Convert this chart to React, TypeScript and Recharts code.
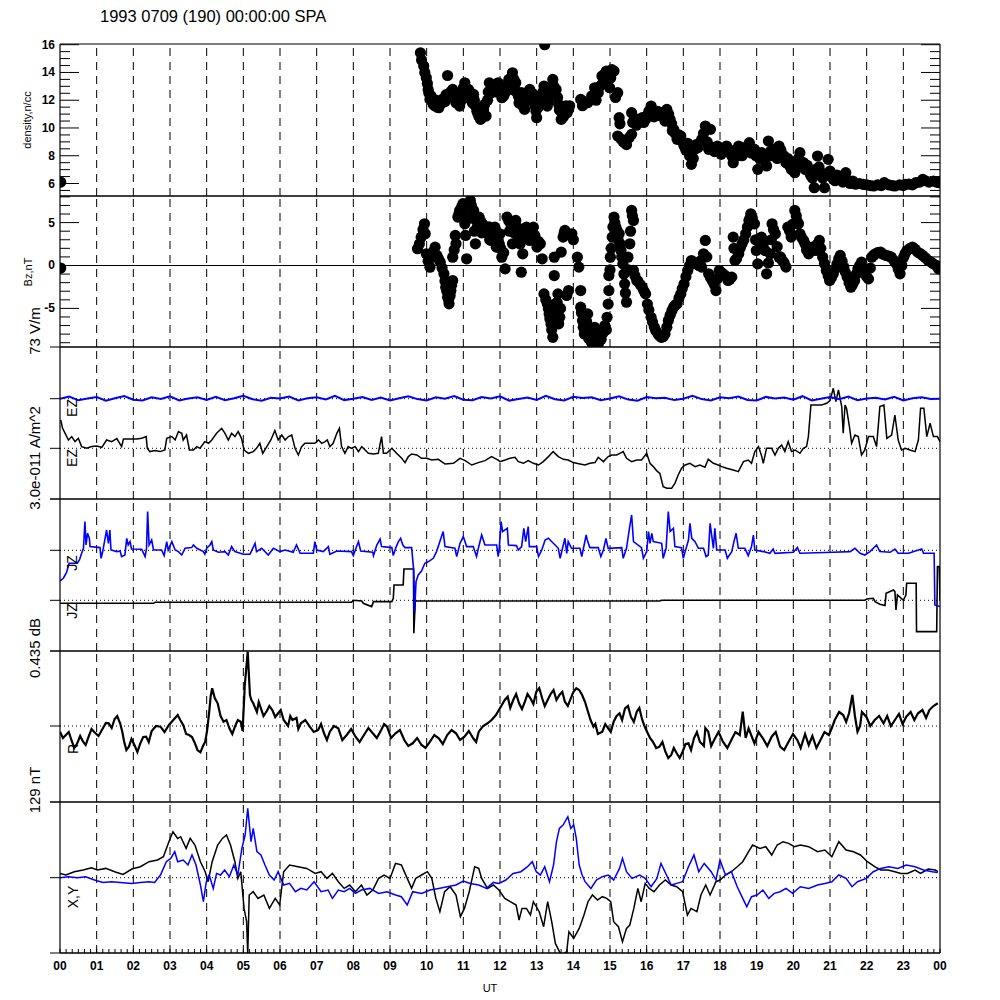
import React from 'react';
import { ComposedChart, Line, Scatter, XAxis, YAxis, ReferenceLine } from 'recharts';

type Pt = [number, number];

const FONT = '"Liberation Sans", Arial, Helvetica, sans-serif';
const BLUE = '#0000ff';

// hour labels along the bottom axis (00 .. 23, 00)
const HOUR_LABELS = ['00', '01', '02', '03', '04', '05', '06', '07', '08', '09', '10', '11',
  '12', '13', '14', '15', '16', '17', '18', '19', '20', '21', '22', '23', '00'];

const DENSITY_TICKS = [5.5, 6, 6.5, 7, 7.5, 8, 8.5, 9, 9.5, 10, 10.5, 11, 11.5, 12, 12.5, 13, 13.5, 14, 14.5, 15, 15.5, 16];
const DENSITY_LABELS = [6, 8, 10, 12, 14, 16];
const BZ_TICKS = [-9, -8, -7, -6, -5, -4, -3, -2, -1, 0, 1, 2, 3, 4, 5, 6, 7, 8];
const BZ_LABELS = [-5, 0, 5];

const DENSITY_DOMAIN: Pt = [5.1, 16.05];
const BZ_DOMAIN: Pt = [-9.5, 8.1];
const EZ_DOMAIN: Pt = [-50.7, 101.3];
const JZ_DOMAIN: Pt = [-50.7, 101.3];
const R_DOMAIN: Pt = [-76, 75];
const XY_DOMAIN: Pt = [-75.3, 75.7];

// density, n/cc  [UT hour, value]
const DENSITY: Pt[] = [
  [0.02, 6.1],
  [9.83, 15.42], [9.86, 14.9], [9.92, 14.46], [9.95, 14.0], [9.99, 13.62], [10.02, 13.2], [10.04, 12.78], [10.06, 12.5],
  [10.09, 12.06], [10.12, 12.3], [10.15, 11.9], [10.18, 11.7], [10.22, 11.6], [10.25, 12.0], [10.28, 11.5], [10.33, 11.46],
  [10.37, 11.7], [10.42, 11.82], [10.45, 12.1], [10.5, 11.9], [10.53, 12.4], [10.57, 13.78], [10.61, 12.3], [10.65, 12.6],
  [10.68, 12.2], [10.71, 12.78], [10.75, 12.3], [10.78, 12.0], [10.8, 11.82], [10.85, 11.9], [10.9, 11.58], [10.95, 12.0],
  [10.98, 12.6], [11.0, 12.9], [11.04, 13.26], [11.08, 12.5], [11.1, 12.2], [11.14, 12.78], [11.18, 12.6], [11.22, 12.0],
  [11.25, 11.8], [11.28, 12.42], [11.3, 12.0], [11.33, 11.58], [11.37, 11.2], [11.4, 11.0], [11.43, 10.8], [11.47, 10.62],
  [11.5, 10.9], [11.55, 11.3], [11.58, 11.7], [11.62, 10.86], [11.66, 12.0], [11.68, 12.6], [11.71, 13.26], [11.76, 12.54],
  [11.8, 12.8], [11.85, 13.0], [11.88, 12.6], [11.92, 12.9], [11.95, 13.26], [12.0, 12.8], [12.05, 12.18], [12.08, 12.9],
  [12.1, 12.3], [12.14, 12.54], [12.18, 13.1], [12.2, 12.9], [12.24, 13.5], [12.28, 13.2], [12.3, 12.8], [12.34, 13.98],
  [12.38, 13.5], [12.4, 12.7], [12.43, 13.26], [12.46, 12.6], [12.5, 12.3], [12.52, 11.8], [12.55, 12.0], [12.58, 12.54],
  [12.62, 11.6], [12.67, 11.34], [12.7, 11.9], [12.74, 12.4], [12.77, 12.6], [12.81, 12.78], [12.85, 12.3], [12.88, 12.5],
  [12.91, 12.06], [12.95, 11.6], [12.98, 11.2], [13.0, 10.74], [13.05, 11.5], [13.08, 11.9], [13.1, 12.3], [13.14, 12.0],
  [13.17, 12.6], [13.2, 13.02], [13.22, 16.0], [13.25, 12.2], [13.29, 11.58], [13.32, 11.9], [13.35, 12.4], [13.38, 12.9],
  [13.44, 13.5], [13.47, 13.0], [13.5, 12.4], [13.53, 12.78], [13.57, 12.2], [13.6, 11.7], [13.62, 11.3], [13.67, 10.62],
  [13.7, 11.0], [13.73, 10.8], [13.77, 11.34], [13.8, 11.6], [13.83, 11.1], [13.87, 11.34], [13.9, 11.6], [14.2, 12.06],
  [14.25, 11.6], [14.3, 11.9], [14.39, 11.82], [14.5, 12.3], [14.58, 12.9], [14.62, 12.0], [14.68, 12.54], [14.72, 13.0],
  [14.78, 13.74], [14.8, 13.2], [14.85, 13.9], [14.9, 14.1], [14.97, 13.98], [14.99, 12.9], [15.02, 13.6], [15.05, 14.2],
  [15.11, 14.1], [15.15, 12.2], [15.21, 12.54], [15.25, 10.74], [15.27, 10.3], [15.21, 9.42], [15.3, 9.2], [15.36, 9.0],
  [15.4, 8.94], [15.45, 8.8], [15.52, 9.3], [15.59, 9.54], [15.59, 11.1], [15.62, 10.4], [15.67, 10.7], [15.72, 10.2],
  [15.78, 10.38], [15.82, 10.5], [15.88, 10.74], [15.92, 10.4], [15.97, 10.62], [16.02, 10.9], [16.06, 11.2], [16.12, 11.58],
  [16.17, 11.3], [16.2, 10.8], [16.26, 10.98], [16.3, 11.2], [16.35, 10.9], [16.4, 11.1], [16.45, 11.0], [16.5, 10.5],
  [16.55, 11.34], [16.6, 11.0], [16.64, 10.62], [16.68, 10.3], [16.7, 9.8], [16.74, 9.9], [16.78, 9.6], [16.83, 9.18],
  [16.88, 9.5], [16.93, 9.42], [16.98, 9.0], [17.02, 8.7], [17.07, 8.4], [17.12, 8.9], [17.17, 8.0], [17.22, 7.38],
  [17.27, 7.8], [17.31, 8.46], [17.35, 8.8], [17.4, 8.6], [17.45, 8.9], [17.5, 9.18], [17.55, 9.6], [17.6, 10.14],
  [17.65, 9.0], [17.69, 8.46], [17.74, 9.9], [17.8, 8.6], [17.85, 8.3], [17.93, 8.7], [17.98, 8.5], [18.03, 8.1],
  [18.08, 8.46], [18.13, 8.3], [18.18, 8.7], [18.22, 8.5], [18.27, 8.22], [18.32, 8.0], [18.36, 7.5], [18.42, 8.4],
  [18.47, 8.0], [18.51, 8.7], [18.56, 8.5], [18.6, 8.0], [18.65, 8.22], [18.7, 8.3], [18.75, 8.7], [18.8, 8.94],
  [18.85, 8.2], [18.9, 8.5], [18.94, 8.46], [18.98, 8.0], [19.03, 7.02], [19.08, 7.8], [19.13, 8.22], [19.18, 8.0],
  [19.22, 7.6], [19.27, 7.26], [19.32, 9.06], [19.37, 8.3], [19.42, 8.0], [19.47, 8.46], [19.52, 8.3], [19.56, 7.8],
  [19.61, 8.7], [19.66, 8.4], [19.7, 7.9], [19.75, 7.98], [19.8, 7.5], [19.85, 7.8], [19.9, 7.26], [19.95, 7.0],
  [20.0, 7.4], [20.04, 6.78], [20.1, 7.3], [20.14, 7.8], [20.18, 8.22], [20.23, 7.2], [20.28, 7.5], [20.33, 7.0],
  [20.38, 7.3], [20.42, 6.9], [20.47, 6.6], [20.52, 6.4], [20.57, 5.7], [20.6, 7.0], [20.66, 7.98], [20.7, 7.2],
  [20.76, 6.78], [20.8, 6.4], [20.85, 5.7], [20.9, 6.6], [20.95, 7.74], [21.0, 6.9], [21.04, 6.5], [21.09, 6.3],
  [21.14, 6.2], [21.19, 6.6], [21.24, 6.54], [21.3, 6.3], [21.35, 6.1], [21.43, 6.78], [21.5, 6.2], [21.55, 6.0],
  [21.62, 6.18], [21.7, 5.95], [21.8, 6.0], [21.9, 5.94], [22.0, 5.9], [22.1, 5.85], [22.19, 5.82], [22.3, 5.9],
  [22.4, 5.85], [22.48, 6.06], [22.6, 5.9], [22.7, 5.85], [22.77, 5.82], [22.9, 5.9], [23.0, 5.85], [23.05, 5.94],
  [23.15, 5.95], [23.25, 5.9], [23.34, 6.06], [23.45, 6.1], [23.53, 6.3], [23.6, 6.2], [23.7, 6.1], [23.82, 6.18],
  [23.9, 6.1], [23.98, 6.06],
];

// Bz, nT
const BZ: Pt[] = [
  [0.02, -0.3],
  [9.75, 1.95], [9.8, 2.5], [9.85, 3.3], [9.9, 4.2], [9.94, 4.86], [9.96, 3.7], [9.99, 1.36], [10.04, 0.5],
  [10.09, -0.2], [10.13, 0.97], [10.18, 1.6], [10.23, 2.14], [10.28, 1.17], [10.32, 0.8], [10.37, 0.39], [10.42, -0.3],
  [10.47, -0.97], [10.5, -1.8], [10.52, -2.53], [10.55, -3.0], [10.57, -3.7], [10.6, -4.0], [10.61, -4.47], [10.64, -3.5],
  [10.66, -2.92], [10.68, -2.3], [10.71, -1.75], [10.71, 0.97], [10.75, 1.8], [10.78, 3.5], [10.8, 2.53], [10.85, 5.64],
  [10.88, 6.0], [10.9, 6.42], [10.95, 6.8], [10.99, 7.2], [11.0, 6.0], [11.04, 4.86], [11.06, 3.5], [11.09, 0.78],
  [11.12, 5.5], [11.15, 6.8], [11.19, 7.59], [11.22, 7.0], [11.25, 5.5], [11.28, 6.42], [11.3, 4.0], [11.33, 2.53],
  [11.38, 4.5], [11.4, 5.0], [11.43, 5.64], [11.47, 5.2], [11.5, 3.8], [11.53, 4.8], [11.57, 4.47], [11.62, 4.0],
  [11.67, 3.7], [11.7, 4.5], [11.72, 3.0], [11.76, 2.92], [11.8, 4.0], [11.82, 3.3], [11.86, 4.47], [11.9, 2.14],
  [11.95, 3.0], [11.98, 2.5], [12.0, 3.7], [12.02, 2.0], [12.05, 0.97], [12.1, 1.5], [12.14, -0.39], [12.19, 5.64],
  [12.24, 5.2], [12.26, 4.0], [12.29, 4.86], [12.34, 2.53], [12.38, 3.8], [12.4, 4.8], [12.43, 5.25], [12.48, 4.4],
  [12.5, 3.2], [12.53, 3.7], [12.55, 2.5], [12.58, -0.78], [12.62, 1.36], [12.68, 3.5], [12.72, 4.47], [12.77, 3.8],
  [12.81, 2.92], [12.86, 3.5], [12.91, 4.47], [12.95, 3.5], [13.01, 2.14], [13.05, 2.8], [13.1, 2.53], [13.15, 0.78],
  [13.2, -3.31], [13.25, -4.0], [13.29, -4.47], [13.32, -5.0], [13.34, -5.64], [13.36, -6.2], [13.39, -6.81], [13.41, -7.5],
  [13.42, -5.5], [13.44, -8.37], [13.46, -6.5], [13.48, 0.97], [13.48, -1.17], [13.5, -4.5], [13.53, -5.25], [13.56, -4.3],
  [13.58, -3.31], [13.6, -6.8], [13.63, -6.03], [13.65, -5.0], [13.67, 1.56], [13.72, 3.31], [13.75, 3.8], [13.77, 4.09],
  [13.82, -3.5], [13.87, -2.92], [13.92, 3.5], [13.96, 3.7], [14.0, 3.0], [14.11, 0.97], [14.15, -0.19], [14.2, -2.92],
  [14.2, -4.86], [14.22, -5.5], [14.25, -6.42], [14.27, -7.2], [14.3, -7.98], [14.33, -7.0], [14.36, -6.5], [14.39, -5.64],
  [14.42, -8.5], [14.44, -7.59], [14.47, -8.0], [14.49, -8.95], [14.52, -8.0], [14.55, -8.8], [14.58, -7.2], [14.62, -8.5],
  [14.65, -8.0], [14.68, -9.14], [14.72, -8.0], [14.76, -8.6], [14.82, -7.78], [14.86, -7.0], [14.9, -7.5], [14.92, -6.03],
  [14.95, -4.5], [14.97, -2.92], [14.97, -1.17], [15.0, -0.5], [15.01, 0.97], [15.03, 2.0], [15.06, 3.31], [15.08, 4.5],
  [15.11, 5.64], [15.13, 5.0], [15.16, 4.47], [15.2, 4.0], [15.22, 3.0], [15.25, 3.7], [15.28, 2.5], [15.3, 1.75],
  [15.32, 1.0], [15.35, 0.19], [15.38, -1.0], [15.4, -2.14], [15.42, -3.2], [15.45, -4.28], [15.49, 0.97], [15.5, -0.5],
  [15.54, 2.53], [15.56, 4.0], [15.59, 6.42], [15.61, 5.8], [15.64, 5.25], [15.64, -0.58], [15.68, -1.2], [15.73, -1.75],
  [15.76, -1.8], [15.82, -2.2], [15.88, -2.53], [15.93, -3.0], [15.97, -3.31], [16.02, -4.5], [16.06, -5.2], [16.12, -6.03],
  [16.16, -6.6], [16.21, -7.2], [16.25, -7.6], [16.31, -7.98], [16.35, -8.2], [16.4, -8.37], [16.45, -8.3], [16.5, -7.98],
  [16.55, -7.2], [16.59, -6.42], [16.64, -5.8], [16.69, -5.25], [16.74, -4.8], [16.78, -4.6], [16.83, -4.47], [16.88, -3.8],
  [16.93, -3.31], [16.97, -2.7], [17.02, -2.14], [17.07, -1.3], [17.12, -0.58], [17.17, 0.0], [17.22, 0.58], [17.28, 0.4],
  [17.36, 0.19], [17.42, 0.0], [17.46, 0.5], [17.5, -0.19], [17.55, 1.36], [17.6, 2.92], [17.64, 1.0], [17.69, -0.97],
  [17.74, -1.4], [17.79, -1.75], [17.84, -2.2], [17.89, -2.92], [17.94, -1.5], [17.98, -0.58], [18.03, -0.8], [18.08, -0.97],
  [18.15, -1.2], [18.22, -1.75], [18.27, -1.6], [18.32, -1.36], [18.36, 3.31], [18.38, 2.0], [18.41, 0.58], [18.45, 0.8],
  [18.51, 1.36], [18.55, 2.0], [18.6, 2.53], [18.65, 3.0], [18.7, 3.7], [18.75, 4.5], [18.79, 5.25], [18.82, 5.5],
  [18.84, 6.03], [18.88, 5.5], [18.94, 4.86], [18.97, 3.0], [18.99, 1.75], [19.03, 0.19], [19.08, 2.0], [19.13, 3.31],
  [19.18, 2.5], [19.23, 1.75], [19.27, -0.97], [19.32, 0.3], [19.37, 1.36], [19.4, 3.0], [19.42, 4.86], [19.46, 4.2],
  [19.51, 3.7], [19.56, 2.2], [19.61, 0.97], [19.65, 1.0], [19.7, 0.58], [19.75, 0.3], [19.8, -0.19], [19.85, 4.47],
  [19.9, 4.0], [19.94, 3.31], [19.98, 4.8], [20.04, 6.42], [20.08, 5.8], [20.1, 5.2], [20.14, 4.86], [20.18, 3.7],
  [20.22, 3.3], [20.28, 2.92], [20.32, 2.5], [20.36, 1.8], [20.42, 1.36], [20.47, 1.8], [20.52, 2.14], [20.56, 2.0],
  [20.61, 1.75], [20.66, 2.5], [20.71, 2.92], [20.75, 2.0], [20.8, 0.97], [20.85, 0.2], [20.9, -0.58], [20.95, -1.2],
  [20.99, -1.75], [21.04, -1.4], [21.09, -0.97], [21.14, -0.4], [21.19, 0.19], [21.24, 0.8], [21.28, 1.17], [21.33, 0.5],
  [21.38, -0.19], [21.42, -0.8], [21.47, -1.36], [21.52, -2.0], [21.57, -2.53], [21.62, -2.2], [21.67, -1.75], [21.72, -1.0],
  [21.76, -0.39], [21.81, 0.0], [21.86, 0.39], [21.9, -0.3], [21.95, -0.97], [22.0, -1.3], [22.05, -1.56], [22.1, -0.3],
  [22.14, 0.97], [22.19, 1.2], [22.24, 1.36], [22.3, 1.5], [22.38, 1.56], [22.45, 1.3], [22.53, 1.17], [22.6, 1.1],
  [22.67, 0.97], [22.74, 0.6], [22.81, 0.19], [22.86, -0.4], [22.91, -0.97], [22.96, 0.0], [23.01, 0.97], [23.05, 1.4],
  [23.1, 1.75], [23.18, 2.0], [23.25, 2.14], [23.32, 1.9], [23.39, 1.56], [23.46, 1.4], [23.53, 1.17], [23.6, 0.9],
  [23.68, 0.58], [23.75, 0.4], [23.82, 0.19], [23.9, 0.0], [23.96, -0.39],
];

// EZ (blue), one reading every 15 minutes
const EZ_BLUE: number[] = [
  49.6, 51.8, 48.0, 49.9, 51.3, 47.6, 50.1, 52.2,
  48.5, 47.8, 51.0, 49.4, 52.0, 47.9, 49.7, 51.1,
  48.3, 51.5, 48.1, 50.0, 52.6, 49.0, 47.6, 50.5,
  49.8, 51.7, 47.9, 50.1, 51.0, 48.8, 52.4, 48.2,
  49.6, 51.3, 48.4, 50.7, 47.8, 50.0, 52.1, 49.2,
  47.9, 51.0, 49.6, 52.2, 48.5, 48.1, 51.2, 49.8,
  51.9, 47.7, 49.4, 50.8, 48.3, 52.5, 49.0, 47.9,
  51.5, 50.2, 51.0, 48.1, 49.8, 51.9, 48.7, 47.6,
  51.3, 50.0, 50.5, 48.2, 49.6, 52.6, 49.2, 47.8,
  51.0, 50.1, 51.7, 48.4, 47.9, 51.4, 49.8, 50.7,
  48.5, 52.1, 47.9, 49.5, 51.2, 49.0, 51.8, 48.1,
  49.8, 50.5, 48.8, 51.6, 47.9, 50.0, 51.0, 49.4,
  49.6,
];

const EZ_BLACK: Pt[] = [
  [0.02, 28.3], [0.07, 20], [0.14, 15], [0.23, 8.3], [0.32, 11.7], [0.41, 6.7], [0.5, 10], [0.59, 1.7],
  [0.73, 0], [0.86, 1.7], [1.0, 2.3], [1.14, 1], [1.27, 8.3], [1.41, 6.7], [1.55, 9.7], [1.68, 1.7],
  [1.73, 9.3], [2.09, 9.3], [2.23, 10], [2.35, 11.7], [2.38, 0], [2.45, -3.3], [2.59, -2.3], [2.73, -3.3],
  [2.86, -1.7], [2.91, 10], [3.05, 11.7], [3.14, 8.3], [3.23, 16.7], [3.32, 15], [3.36, 8.3], [3.45, 13.3],
  [3.53, -1.7], [3.64, -1.7], [3.73, 1.7], [3.82, 0], [3.95, 6.7], [4.05, 5], [4.14, 8.3], [4.27, 15],
  [4.41, 20], [4.5, 15], [4.59, 8.3], [4.68, 15], [4.77, 11.7], [4.86, 16.7], [4.95, 10], [5.02, -1.7],
  [5.14, -5], [5.27, -3.3], [5.36, 0], [5.45, 5], [5.53, -5], [5.64, 1.7], [5.75, 8.3], [5.86, 17.7],
  [5.95, 8.3], [6.05, 13.3], [6.14, 8.3], [6.23, 11.7], [6.32, 13.3], [6.41, 0], [6.5, -6.7], [6.59, 1.7],
  [6.68, 5], [6.95, 5], [7.05, 8.3], [7.14, 5], [7.23, 6.7], [7.29, 8.3], [7.36, 1.7], [7.45, 5],
  [7.55, 15], [7.62, 20], [7.68, 1.7], [7.77, -5], [7.86, 1.7], [7.95, 0], [8.05, 1.7], [8.14, -3.3],
  [8.23, 1.7], [8.32, -1.7], [8.41, -5], [8.55, -5.7], [8.68, -5], [8.77, 11.7], [8.82, -5], [8.91, -5],
  [9.05, 0], [9.18, -5], [9.32, -10], [9.41, -14.3], [9.5, -8.3], [9.59, -5.7], [9.73, -6.7], [9.86, -10],
  [10.0, -10], [10.14, -11.7], [10.32, -11], [10.5, -15.7], [10.73, -15], [10.91, -10], [11.05, -12.3],
  [11.23, -16.7], [11.41, -14.3], [11.59, -12.3], [11.77, -8.3], [11.95, -11.7],
  [12.0, -13.3], [12.14, -11.7], [12.27, -10], [12.41, -9], [12.5, -13.3], [12.64, -15], [12.77, -12.3],
  [12.91, -15], [13.05, -16.7], [13.18, -13.3], [13.32, -8.3], [13.45, -3.3], [13.59, -8.3], [13.73, -11],
  [13.86, -11.7], [14.0, -14.3], [14.18, -15.7], [14.32, -16.7], [14.45, -15], [14.59, -14.3], [14.68, -9],
  [14.82, -13.3], [14.95, -8.3], [15.05, -6.7], [15.18, -6.7], [15.27, -5], [15.36, -3.3], [15.45, -10],
  [15.59, -13.3], [15.73, -11.7], [15.86, -11.7], [16.0, -5], [16.09, -15], [16.18, -18.3], [16.27, -22.3],
  [16.36, -25], [16.45, -38.3], [16.55, -40], [16.68, -40], [16.77, -35], [16.86, -26.7], [16.95, -20],
  [17.05, -16.7], [17.18, -15], [17.32, -18.3], [17.45, -16.7], [17.59, -19], [17.68, -11], [17.82, -15],
  [17.95, -16.7], [18.05, -18.3], [18.18, -20], [18.36, -21.7], [18.5, -23.3], [18.64, -13.3], [18.77, -11.7],
  [18.86, -15], [18.95, -3.3], [19.05, 1.7], [19.14, -8.3], [19.18, -15], [19.27, 0], [19.41, 0],
  [19.5, -6.7], [19.59, 0], [19.68, 3.3], [19.77, -3.3], [19.86, 6.7], [19.95, -3.3], [20.05, -1.7],
  [20.18, -5], [20.27, 0], [20.36, 1.7], [20.41, 11.7], [20.48, 43.3], [20.64, 43.3], [20.77, 43.3],
  [20.91, 45], [21.0, 47.7], [21.09, 60], [21.16, 46.7], [21.23, 58.3], [21.32, 41.7], [21.36, 15],
  [21.41, 43.3], [21.45, 40], [21.53, 21.7], [21.59, 5], [21.68, 13.3], [21.77, 11.7], [21.86, -6.7],
  [21.95, -1.7], [22.05, 11.7], [22.18, 11.7], [22.27, 1.7], [22.36, 41.7], [22.47, 43.3], [22.55, 10],
  [22.68, 13.3], [22.77, 33.3], [22.86, 8.3], [22.95, -1.7], [23.05, 0], [23.18, -1.7], [23.32, -3.3],
  [23.41, 8.3], [23.47, 40], [23.56, 40], [23.64, 11.7], [23.73, 25], [23.82, 11.7], [23.93, 11.7],
  [24.0, 6.7],
];

const JZ_BLUE: Pt[] = [
  [0.0, 19.3], [0.09, 22], [0.14, 25.3], [0.18, 28], [0.25, 37], [0.47, 37], [0.53, 40.3], [0.59, 47],
  [0.64, 52], [0.68, 78.7], [0.71, 55.3], [0.75, 67], [0.8, 62], [0.82, 53.7], [1.09, 52.7], [1.12, 42],
  [1.16, 48], [1.23, 62], [1.27, 70.3], [1.32, 57], [1.36, 70.3], [1.39, 50.3], [1.55, 48.7], [1.64, 49.3],
  [1.68, 43.7], [1.77, 45.3], [1.82, 62], [1.86, 55.3], [1.91, 58.7], [1.95, 51.3], [2.23, 51], [2.32, 43.7],
  [2.36, 52], [2.39, 88.7], [2.43, 55.3], [2.5, 60.3], [2.55, 50.3], [2.77, 50.3], [2.84, 44.7], [2.91, 58.7],
  [2.95, 50.3], [3.05, 58.7], [3.14, 50.3], [3.23, 48.7], [3.32, 45.3], [3.41, 52], [3.59, 52.7], [3.64, 55.3],
  [3.73, 52], [3.91, 48.7], [3.95, 46], [4.0, 52], [4.09, 55.3], [4.14, 58.7], [4.18, 50.3], [4.32, 48],
  [4.5, 48.7], [4.59, 45.3], [4.68, 53.7], [4.77, 48.7], [5.0, 46], [5.18, 46], [5.32, 57], [5.36, 48.7],
  [5.5, 52], [5.68, 45.3], [5.82, 52], [6.0, 48.7], [6.14, 50.3], [6.36, 48], [6.45, 55.3], [6.55, 47],
  [6.91, 47], [6.95, 58.7], [7.0, 50.3], [7.18, 48.7], [7.32, 53.7], [7.36, 46], [7.55, 49.3], [7.95, 48.7],
  [8.0, 44.7], [8.07, 52], [8.14, 58.7], [8.2, 49.3], [8.53, 48], [8.55, 44.7], [8.64, 55.3], [8.73, 61.3],
  [8.77, 53.7], [9.05, 52.7], [9.09, 44.7], [9.16, 52.7], [9.23, 58.7], [9.29, 62], [9.35, 55.3], [9.41, 52.7],
  [9.59, 52.7], [9.65, 28.7], [9.67, -11.3], [9.71, 18.7], [9.77, 25.3], [9.86, 29.3], [9.95, 37], [10.05, 38.7],
  [10.18, 42], [10.27, 48.7], [10.36, 58.7], [10.45, 68.7], [10.5, 53.7], [10.77, 52], [10.82, 43.7], [10.91, 57],
  [11.0, 63.7], [11.09, 53.7], [11.27, 53.7], [11.36, 43.7], [11.41, 52], [11.5, 65.3], [11.59, 55.3], [11.91, 55.3],
  [11.95, 43.7], [11.98, 52], [12.03, 78.7], [12.07, 68.7], [12.2, 72], [12.23, 55.3], [12.45, 54.7], [12.5, 50.3],
  [12.59, 53.7], [12.65, 72], [12.7, 58.7], [12.77, 73.7], [12.8, 53.7], [13.0, 53.7], [13.05, 43.7], [13.14, 50.3],
  [13.23, 60.3], [13.32, 62], [13.59, 52], [13.64, 42], [13.77, 62], [13.82, 47], [13.86, 58.7], [13.95, 52],
  [14.18, 52], [14.23, 43.7], [14.35, 65.3], [14.38, 60.3], [14.45, 52.7], [14.68, 52.7], [14.75, 43.7], [14.82, 50.3],
  [14.89, 62], [14.95, 52], [15.32, 52.7], [15.36, 42], [15.45, 52], [15.53, 72], [15.59, 85.3], [15.64, 58.7],
  [15.86, 52.7], [15.91, 42], [16.0, 48.7], [16.05, 68.7], [16.09, 57], [16.14, 67], [16.18, 58.7], [16.41, 57],
  [16.45, 42], [16.53, 52], [16.59, 88.7], [16.64, 68.7], [16.73, 72], [16.77, 53.7], [16.95, 52.7], [17.0, 42],
  [17.05, 48.7], [17.14, 60.3], [17.18, 77], [17.23, 62], [17.32, 58.7], [17.41, 52], [17.55, 52], [17.62, 43.7],
  [17.68, 45.3], [17.73, 77], [17.82, 52], [17.86, 72], [17.91, 50.3], [18.14, 50.3], [18.2, 42], [18.32, 48.7],
  [18.38, 58.7], [18.44, 67], [18.5, 52], [18.68, 52], [18.77, 44.7], [18.86, 53.7], [18.91, 65.3], [18.95, 50.3],
  [19.18, 48.7], [19.36, 47], [19.45, 51.3], [19.5, 47], [20.0, 48], [20.11, 52.7], [20.18, 47], [21.09, 48],
  [21.55, 48.7], [21.68, 52], [21.82, 47], [21.95, 45.3], [22.09, 48.7], [22.27, 55.3], [22.36, 48.7], [22.64, 48],
  [22.77, 51.3], [22.86, 47], [23.14, 47], [23.5, 51.3], [23.55, 47], [23.84, 47], [23.86, -4.7], [24.0, -6.3],
];

const JZ_BLACK: Pt[] = [
  [0, -3], [2.55, -3], [2.59, -2], [7.95, -2], [8.0, 0], [8.23, -0.7], [8.27, -3], [8.5, -6.3],
  [8.55, -1.3], [9.05, -1.3], [9.09, 2], [9.11, 15.3], [9.36, 15.3], [9.38, 31.3], [9.64, 31.3], [9.65, -33],
  [9.69, -0.7], [16.36, -0.7], [16.41, 0], [21.95, 0], [22.0, 1.3], [22.18, 2], [22.23, -1.3], [22.36, -4],
  [22.5, -5.3], [22.53, 7], [22.73, 10.3], [22.77, 8.7], [22.8, -9.7], [22.84, 5.3], [23.0, 0], [23.07, 5.3],
  [23.09, 17], [23.35, 17], [23.36, -31.3], [23.91, -31.3], [23.93, 33.7], [23.98, 33.7], [24.0, -0.7],
];

const R_TRACE: Pt[] = [
  [0.0, -5.7], [0.08, -12], [0.16, -9], [0.24, -6], [0.31, -14], [0.39, -22], [0.47, -17.3], [0.55, -10],
  [0.63, -15.7], [0.7, -19], [0.78, -10.7], [0.86, -3], [0.94, -6.3], [1.05, -10], [1.17, -2.3], [1.25, 3],
  [1.33, 2.7], [1.41, -2], [1.49, 7], [1.56, 10], [1.64, 2.7], [1.7, -6], [1.75, -15.7], [1.81, -24],
  [1.88, -20.7], [1.95, -13], [2.03, -19], [2.11, -26], [2.19, -17.3], [2.27, -11], [2.35, -10.7], [2.42, -16],
  [2.5, -5], [2.62, 0], [2.74, -0.7], [2.85, -6], [2.97, 1], [3.09, 6], [3.21, 11], [3.28, 6],
  [3.36, 1], [3.44, -8], [3.52, -9], [3.6, -11], [3.68, -17.3], [3.75, -24], [3.83, -26.3], [3.9, -20],
  [3.96, -15.7], [4.01, -5], [4.07, 14.3], [4.11, 30], [4.15, 37.7], [4.22, 28], [4.3, 22.7], [4.38, 10],
  [4.46, 4.3], [4.54, 6], [4.62, -2.3], [4.7, -8], [4.77, -0.7], [4.85, 6], [4.93, 4.3], [4.98, -5],
  [5.04, 41], [5.12, 74.3], [5.18, 31], [5.22, 26], [5.27, 22.7], [5.37, 14], [5.42, 24], [5.48, 17.7],
  [5.55, 10], [5.63, 14.3], [5.71, 20], [5.79, 16], [5.87, 9], [5.95, 12.7], [6.02, 16], [6.1, 6],
  [6.22, 0], [6.28, 10], [6.34, 6], [6.45, 8], [6.5, -3], [6.57, 2.7], [6.69, 6], [6.81, -0.7],
  [6.92, -6], [7.04, -4], [7.12, 2], [7.2, -7.3], [7.28, -14], [7.36, -5.7], [7.47, 0], [7.59, -2.3],
  [7.7, -14], [7.82, -9], [7.94, -3], [8.06, -10.7], [8.17, -16], [8.29, -9], [8.41, -2], [8.53, -7.3],
  [8.64, -12], [8.76, -4], [8.84, 2], [8.92, -0.7], [9.03, -12], [9.15, -7.3], [9.27, -4], [9.39, -14],
  [9.5, -20], [9.62, -17.3], [9.74, -12], [9.86, -19], [9.97, -22], [10.09, -15.7], [10.21, -9], [10.33, -12.3],
  [10.44, -18], [10.56, -9], [10.68, -4], [10.8, -7.3], [10.91, -14], [11.03, -10.7], [11.15, -5], [11.27, -12.3],
  [11.35, -16], [11.42, -5.7], [11.54, 0], [11.66, 2.7], [11.77, 6], [11.89, 11], [11.97, 16], [12.05, 21],
  [12.13, 26], [12.21, 29.3], [12.28, 18], [12.36, 26], [12.44, 32], [12.52, 22.7], [12.6, 17], [12.68, 24.3],
  [12.75, 32], [12.83, 27.7], [12.91, 22], [12.99, 34.3], [13.07, 38], [13.15, 27.7], [13.22, 20], [13.3, 26],
  [13.38, 32], [13.46, 36], [13.54, 26], [13.62, 31], [13.7, 34], [13.77, 24.3], [13.85, 20], [13.93, 27.7],
  [14.0, 34], [14.08, 37.7], [14.16, 36], [14.24, 31], [14.32, 24], [14.4, 14.3], [14.47, 6], [14.55, -0.7],
  [14.6, 2], [14.67, -8], [14.79, -5.7], [14.87, 2], [14.95, -2.3], [15.02, -6], [15.1, 4.3], [15.18, 10],
  [15.26, 12.7], [15.33, 6], [15.41, 17.7], [15.49, 20], [15.57, 9.3], [15.65, 4], [15.73, 14.3], [15.8, 18],
  [15.88, 6], [15.94, 0], [16.01, -5.7], [16.09, -12], [16.17, -15.7], [16.26, -22], [16.35, -20.7], [16.43, -16],
  [16.51, -25.7], [16.59, -32], [16.67, -29], [16.74, -22], [16.82, -27.3], [16.9, -32], [16.98, -25.7], [17.06, -18],
  [17.14, -17.3], [17.21, -24], [17.29, -12.3], [17.37, -6], [17.45, -15.7], [17.56, -20], [17.6, -2], [17.68, -5.7],
  [17.76, -20], [17.84, -14], [17.96, -6], [18.08, -15.7], [18.2, -22], [18.31, -14], [18.42, -6], [18.54, -9],
  [18.62, 14.3], [18.7, -12], [18.78, -2.3], [18.86, -10], [18.94, -17.3], [19.05, -6], [19.17, -12.3], [19.29, -20],
  [19.41, -10.7], [19.52, -6], [19.64, -20.7], [19.75, -24], [19.87, -15.7], [19.99, -8], [20.11, -14], [20.2, -22],
  [20.32, -8], [20.42, -19], [20.52, -10], [20.63, -22], [20.74, -14], [20.85, -6], [20.97, -9], [21.05, -2],
  [21.13, 6], [21.25, 14], [21.36, 11], [21.44, 4], [21.52, 12.7], [21.61, 31], [21.68, 10], [21.75, -5.7],
  [21.82, 0], [21.87, 14], [21.99, 9.3], [22.1, 0], [22.22, 6], [22.34, 10], [22.46, 2.7], [22.56, 10],
  [22.66, 0], [22.77, 6], [22.88, 12], [22.98, 2], [23.08, 9.3], [23.2, 14], [23.3, 6], [23.4, 12.7],
  [23.52, 16], [23.62, 8], [23.71, 16], [23.82, 20], [23.94, 22.7],
];

const X_TRACE: Pt[] = [
  [0.0, 4.3], [0.16, 2.7], [0.39, 6], [0.63, 7.7], [0.86, 10], [1.02, 7.7], [1.25, 9.3], [1.49, 6],
  [1.72, 3.3], [1.96, 8.7], [2.19, 11], [2.43, 16], [2.66, 17.7], [2.82, 21], [2.97, 36], [3.08, 46],
  [3.21, 39.3], [3.29, 41], [3.44, 29.3], [3.55, 39.3], [3.68, 32.7], [3.83, 16], [3.96, 6], [4.04, -4],
  [4.15, 16], [4.3, 32.7], [4.43, 39.3], [4.54, 42.7], [4.65, 32.7], [4.77, 16], [4.85, -0.7], [4.93, 6],
  [5.02, -30.7], [5.09, -44], [5.12, -77.3], [5.16, -17.3], [5.27, -14], [5.4, -20.7], [5.56, -17.3], [5.71, -30.7],
  [5.87, -20.7], [5.99, -27.3], [6.1, 6], [6.26, 12.7], [6.49, 11], [6.73, 9.3], [6.96, 4.3], [7.12, 6],
  [7.28, -0.7], [7.43, 4.3], [7.59, -4], [7.75, -10.7], [7.9, -7.3], [8.06, -14], [8.22, -7.3], [8.37, -17.3],
  [8.53, -12.3], [8.69, -0.7], [8.84, 2.7], [9.0, -0.7], [9.15, 14.3], [9.31, 12.7], [9.47, -0.7], [9.59, -10.7],
  [9.7, -0.7], [9.86, 2.7], [10.02, 6], [10.14, -0.7], [10.25, -20.7], [10.36, -34], [10.49, -14], [10.64, -9],
  [10.8, -17.3], [10.92, -39], [11.03, -30.7], [11.16, -14], [11.31, 11], [11.42, 9.3], [11.5, -0.7], [11.66, -10.7],
  [11.82, -7.3], [11.97, -12.3], [12.13, -20.7], [12.28, -24], [12.44, -27.3], [12.52, -42.3], [12.6, -30.7], [12.72, -30.7],
  [12.83, -37.3], [12.91, -24], [13.07, -34], [13.19, -49], [13.3, -24], [13.41, -44], [13.51, -65.7], [13.62, -74],
  [13.69, -77.3], [13.82, -74], [13.88, -54], [14.01, -60.7], [14.16, -50.7], [14.29, -37.3], [14.4, -24], [14.52, -17.3],
  [14.66, -22.3], [14.79, -19], [14.91, -20.7], [15.02, -24], [15.1, -44], [15.23, -49], [15.34, -64], [15.45, -50.7],
  [15.54, -47.3], [15.65, -30.7], [15.76, -10.7], [15.85, -24], [15.96, -5.7], [16.07, -10.7], [16.2, -14], [16.35, -7.3],
  [16.51, -2.3], [16.67, -7.3], [16.82, -9], [16.98, -14], [17.11, -37.3], [17.21, -30.7], [17.37, -34], [17.48, -17.3],
  [17.61, -7.3], [17.73, -17.3], [17.89, -4], [18.0, -2.3], [18.15, 2.7], [18.31, 6], [18.47, 11], [18.62, 16],
  [18.78, 26], [18.89, 32.7], [19.09, 29.3], [19.25, 31], [19.41, 22.7], [19.56, 32.7], [19.72, 36], [19.87, 34.3],
  [20.03, 31], [20.19, 32.7], [20.42, 31], [20.66, 26], [20.86, 27.7], [21.05, 21], [21.24, 36], [21.44, 27.7],
  [21.64, 26], [21.83, 22.7], [22.02, 16], [22.22, 11], [22.38, 7.7], [22.58, 7.7], [22.77, 6], [22.93, 4.3],
  [23.11, 4.3], [23.32, 7.7], [23.47, 4.3], [23.68, 8.7], [23.87, 7.7], [23.94, 6],
];

const Y_TRACE: Pt[] = [
  [0.0, 0], [0.23, 1], [0.47, 0], [0.7, 1], [0.94, -2.3], [1.17, -4.7], [1.41, -4], [1.64, -4.7],
  [1.96, -5.7], [2.19, -4.7], [2.43, -4], [2.58, -4.7], [2.74, 2.7], [2.9, 16], [3.02, 19.3], [3.13, 26],
  [3.21, 16], [3.36, 17.7], [3.49, 12.7], [3.6, 22.7], [3.71, 12.7], [3.83, -7.3], [3.91, -24], [3.99, -4],
  [4.07, 2.7], [4.18, -10.7], [4.27, 4.3], [4.38, 2.7], [4.49, 7.7], [4.62, 1], [4.74, 12.7], [4.85, 2.7],
  [4.96, 29.3], [5.05, 42.7], [5.12, 69.3], [5.21, 36], [5.27, 49.3], [5.37, 26], [5.48, 22.7], [5.59, 12.7],
  [5.71, 2.7], [5.84, -2.3], [5.95, 6], [6.1, -7.3], [6.26, -5.7], [6.42, -14], [6.57, -10.7], [6.73, -12.3],
  [6.93, -4], [7.12, -14], [7.31, -12.3], [7.43, -20.7], [7.59, -12.3], [7.75, -14], [7.9, -10.7], [8.06, -15.7],
  [8.22, -12.3], [8.45, -10.7], [8.69, -15.7], [8.92, -14], [9.15, -17.3], [9.31, -19], [9.47, -27.3], [9.62, -14],
  [9.86, -15.7], [10.09, -12.3], [10.33, -10.7], [10.56, -9], [10.8, -7.3], [11.0, -3.3], [11.19, -5.7], [11.42, -7.3],
  [11.63, -10.7], [11.82, -4.7], [11.97, -5.7], [12.16, -2.3], [12.36, 4.3], [12.57, 6], [12.75, 11], [12.88, 16],
  [12.99, 6], [13.1, 2.7], [13.22, 11], [13.35, -4], [13.46, 12.7], [13.54, 36], [13.62, 49.3], [13.72, 52.7],
  [13.85, 61], [13.93, 49.3], [14.01, 52.7], [14.08, 39.3], [14.16, 12.7], [14.24, 2.7], [14.32, -4], [14.48, -10.7],
  [14.63, -2.3], [14.79, 1], [14.95, 2.7], [15.1, -2.3], [15.26, 9.3], [15.34, 19.3], [15.45, 6], [15.6, -0.7],
  [15.81, 2.7], [15.96, -0.7], [16.12, -9], [16.28, -0.7], [16.39, 14.3], [16.54, 2.7], [16.67, -7.3], [16.82, -5.7],
  [16.98, -4], [17.14, 11], [17.29, 22.7], [17.42, 6], [17.57, 14.3], [17.76, 6], [17.89, -2.3], [18.0, 17.7],
  [18.15, 2.7], [18.31, 6], [18.47, -9], [18.62, -20.7], [18.73, -29], [18.86, -19], [19.01, -17.3], [19.17, -12.3],
  [19.33, -20.7], [19.48, -15.7], [19.64, -14], [19.8, -10.7], [19.98, -15.7], [20.19, -9], [20.42, -10.7], [20.66, -7.3],
  [20.86, -5.7], [21.05, -4], [21.24, 2.7], [21.44, -0.7], [21.6, -9], [21.75, -4], [21.99, -0.7], [22.18, 6],
  [22.38, 9.3], [22.61, 11], [22.85, 9.3], [23.08, 12.7], [23.32, 11], [23.55, 7.7], [23.79, 6], [23.94, 5.3],
];

const toPts = (arr: Pt[]) => arr.map(([t, v]) => ({ t, v }));
const EZ_BLUE_PTS = EZ_BLUE.map((v, i) => ({ t: i * 0.25, v }));

const HOUR_LINES = HOUR_LABELS.map((_, i) => i).filter((h) => h > 0 && h < 24);
const X_MINOR_TICKS = Array.from({ length: 24 * 6 + 1 }, (_, i) => i / 6);

const PAD = 6;

const hourLines = () =>
  HOUR_LINES.map((h) => (
    <ReferenceLine key={`h${h}`} x={h} stroke="#000" strokeDasharray="8 6" ifOverflow="visible" />
  ));

const frame = (domain: Pt) => [
  <ReferenceLine key="ft" y={domain[1]} stroke="#000" strokeWidth={1.2} />,
  <ReferenceLine key="fb" y={domain[0]} stroke="#000" strokeWidth={1.2} />,
  <ReferenceLine key="fr" x={24} stroke="#000" strokeWidth={1.2} />,
];

const makeInTick = (labels: number[], side: 'left' | 'right') => (props: any) => {
  const { x, y, payload } = props;
  const v = payload.value as number;
  const major = labels.includes(v);
  const len = major ? 19 : 10;
  const dir = side === 'left' ? 1 : -1;
  return (
    <g>
      <line x1={x} x2={x + dir * len} y1={y} y2={y} stroke="#000" />
      {side === 'left' && major && (
        <text x={x - 5} y={y} textAnchor="end" dominantBaseline="central" fontSize={12}
          fontWeight="bold" fill="#000" fontFamily={FONT}>
          {v}
        </text>
      )}
    </g>
  );
};

const outTick = (props: any) => {
  const { x, y } = props;
  return <line x1={x - 10} x2={x} y1={y} y2={y} stroke="#000" />;
};

const bottomTick = (props: any) => {
  const { x, y, payload } = props;
  const v = payload.value as number;
  const isHour = Number.isInteger(v);
  return (
    <g>
      <line x1={x} x2={x} y1={y} y2={y - 4} stroke="#000" />
      {isHour && (
        <text x={x} y={y + 17} textAnchor="middle" fontSize={12} fontWeight="bold" fill="#000" fontFamily={FONT}>
          {HOUR_LABELS[v]}
        </text>
      )}
    </g>
  );
};

interface PanelProps {
  top: number;
  bottom: number;
  domain: Pt;
  leftTicks: number[];
  labels?: number[];
  withXAxis?: boolean;
  children: React.ReactNode;
}

function Panel({ top, bottom, domain, leftTicks, labels, withXAxis, children }: PanelProps) {
  const h = bottom - top;
  const axisH = withXAxis ? 40 : 0;
  const labelled = !!labels;
  return (
    <div style={{ position: 'absolute', left: 0, top: top - PAD }}>
      <ComposedChart width={1000} height={h + 2 * PAD + axisH}
        margin={{ top: PAD, right: 59, bottom: PAD, left: 0 }}>
        <XAxis type="number" dataKey="t" domain={[0, 24]} allowDataOverflow hide={!withXAxis}
          ticks={X_MINOR_TICKS} interval={0} tickSize={0} tickMargin={0} tickLine={false}
          axisLine={{ stroke: '#000', strokeWidth: 1.2 }} tick={bottomTick} height={axisH || 1} />
        <YAxis type="number" dataKey="v" domain={domain} allowDataOverflow width={60}
          ticks={leftTicks} interval={0} tickSize={0} tickMargin={0} tickLine={false}
          axisLine={{ stroke: '#000', strokeWidth: 1.2 }}
          tick={labelled ? makeInTick(labels!, 'left') : outTick} />
        <YAxis yAxisId="right" orientation="right" type="number" domain={domain} allowDataOverflow width={1}
          ticks={labelled ? leftTicks : []} interval={0} tickSize={0} tickMargin={0} tickLine={false}
          axisLine={false} tick={labelled ? makeInTick(labels!, 'right') : false} />
        {hourLines()}
        {frame(domain)}
        {children}
      </ComposedChart>
    </div>
  );
}

const dot = (p: any) => <circle cx={p.cx} cy={p.cy} r={5.6} fill="#000" />;

const sideLabels: { text: string; x: number; y: number; size: number }[] = [
  { text: 'density,n/cc', x: 27, y: 120, size: 11 },
  { text: 'Bz,nT', x: 28, y: 272, size: 11 },
  { text: '73 V/m', x: 34, y: 331, size: 15 },
  { text: '3.0e-011 A/m^2', x: 34, y: 458, size: 15 },
  { text: '0.435 dB', x: 34, y: 648, size: 15 },
  { text: '129 nT', x: 34, y: 790, size: 15 },
  { text: 'EZ', x: 72, y: 408, size: 14 },
  { text: 'EZ', x: 72, y: 458, size: 14 },
  { text: 'JZ', x: 72, y: 563, size: 14 },
  { text: 'JZ', x: 72, y: 611, size: 14 },
  { text: 'R', x: 73, y: 749, size: 14 },
  { text: 'X,Y', x: 73, y: 897, size: 14 },
];

export default function App() {
  const lineProps = { dot: false, activeDot: false, isAnimationActive: false, type: 'linear' as const };
  return (
    <div style={{ position: 'absolute', left: 0, top: 0, width: 1000, height: 1000, background: '#fff', fontFamily: FONT }}>
      <Panel top={44} bottom={196} domain={DENSITY_DOMAIN} leftTicks={DENSITY_TICKS} labels={DENSITY_LABELS}>
        <Scatter data={toPts(DENSITY)} dataKey="v" fill="#000" shape={dot} isAnimationActive={false} />
      </Panel>
      <Panel top={196} bottom={347} domain={BZ_DOMAIN} leftTicks={BZ_TICKS} labels={BZ_LABELS}>
        <ReferenceLine y={0} stroke="#000" strokeWidth={1.2} />
        <Scatter data={toPts(BZ)} dataKey="v" fill="#000" shape={dot} isAnimationActive={false} />
      </Panel>
      <Panel top={347} bottom={499} domain={EZ_DOMAIN} leftTicks={[EZ_DOMAIN[0], 0, 49.6, EZ_DOMAIN[1]]}>
        <ReferenceLine y={0} stroke="#000" strokeDasharray="1 3" />
        <ReferenceLine y={49.6} stroke="#000" strokeDasharray="1 3" />
        <Line data={toPts(EZ_BLACK)} dataKey="v" stroke="#000" strokeWidth={1.5} {...lineProps} />
        <Line data={EZ_BLUE_PTS} dataKey="v" stroke={BLUE} strokeWidth={2} {...lineProps} />
      </Panel>
      <Panel top={499} bottom={651} domain={JZ_DOMAIN} leftTicks={[JZ_DOMAIN[0], 0, 50, JZ_DOMAIN[1]]}>
        <ReferenceLine y={0} stroke="#000" strokeDasharray="1 3" />
        <ReferenceLine y={50} stroke="#000" strokeDasharray="1 3" />
        <Line data={toPts(JZ_BLACK)} dataKey="v" stroke="#000" strokeWidth={1.6} {...lineProps} />
        <Line data={toPts(JZ_BLUE)} dataKey="v" stroke={BLUE} strokeWidth={1.6} {...lineProps} />
      </Panel>
      <Panel top={651} bottom={802} domain={R_DOMAIN} leftTicks={[R_DOMAIN[0], 0, R_DOMAIN[1]]}>
        <ReferenceLine y={0} stroke="#000" strokeDasharray="1 3" />
        <Line data={toPts(R_TRACE)} dataKey="v" stroke="#000" strokeWidth={2.2} {...lineProps} />
      </Panel>
      <Panel top={802} bottom={953} domain={XY_DOMAIN} leftTicks={[XY_DOMAIN[0], 0, XY_DOMAIN[1]]} withXAxis>
        <ReferenceLine y={0} stroke="#000" strokeDasharray="1 3" />
        <Line data={toPts(X_TRACE)} dataKey="v" stroke="#000" strokeWidth={1.5} {...lineProps} />
        <Line data={toPts(Y_TRACE)} dataKey="v" stroke={BLUE} strokeWidth={1.5} {...lineProps} />
      </Panel>
      <svg width={1000} height={1000} style={{ position: 'absolute', left: 0, top: 0, pointerEvents: 'none' }}>
        <text x={100} y={22} fontSize={16.5} fill="#000" fontFamily={FONT}>1993 0709 (190) 00:00:00 SPA</text>
        <text x={490} y={992} fontSize={11} fill="#000" fontFamily={FONT} textAnchor="middle">UT</text>
        {sideLabels.map((l, i) => (
          <text key={i} x={l.x} y={l.y} fontSize={l.size} fill="#000" fontFamily={FONT} textAnchor="middle"
            dominantBaseline="central" transform={`rotate(-90 ${l.x} ${l.y})`}>
            {l.text}
          </text>
        ))}
      </svg>
    </div>
  );
}
